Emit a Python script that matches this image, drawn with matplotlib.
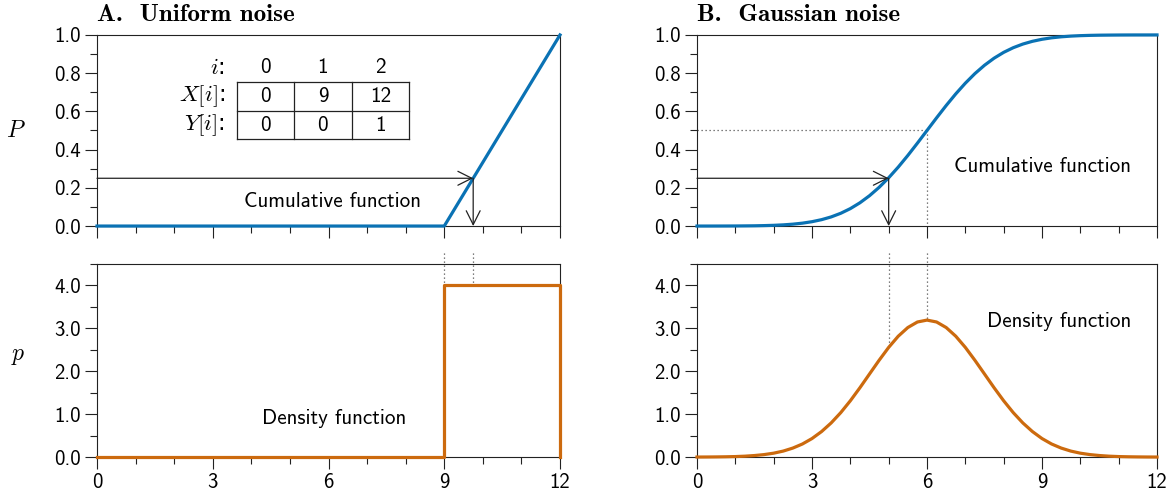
import matplotlib
matplotlib.use("Agg")
import matplotlib.pyplot as plt
from matplotlib.ticker import MultipleLocator, FormatStrFormatter

plt.rcParams["mathtext.fontset"] = "cm"
plt.rcParams["axes.unicode_minus"] = False

BLUE = "#0a72b4"
ORANGE = "#cc6a0e"
INK = "#222222"
SANS = "cmss10"

# Uniform noise: piecewise-linear cumulative, box density
uni_x = [0, 9, 12]
uni_cdf = [0, 0, 1]
uni_pdf_x = [0, 9, 9, 12, 12]
uni_pdf = [0, 0, 4, 4, 0]

# table shown in panel A
tab_cols = ["0", "1", "2"]
tab_X = ["0", "9", "12"]
tab_Y = ["0", "0", "1"]

# Gaussian noise, values
gx = [0, 0.25, 0.5, 0.75, 1, 1.25, 1.5, 1.75, 2, 2.25, 2.5, 2.75, 3, 3.25, 3.5, 3.75,
      4, 4.25, 4.5, 4.75, 5, 5.25, 5.5, 5.75, 6, 6.25, 6.5, 6.75, 7, 7.25, 7.5, 7.75,
      8, 8.25, 8.5, 8.75, 9, 9.25, 9.5, 9.75, 10, 10.25, 10.5, 10.75, 11, 11.25, 11.5,
      11.75, 12]
g_cdf = [0.0, 0.0, 0.0001, 0.0002, 0.0004, 0.0008, 0.0013, 0.0023, 0.0038, 0.0062,
         0.0098, 0.0151, 0.0228, 0.0334, 0.0478, 0.0668, 0.0912, 0.1217, 0.1587, 0.2023,
         0.2525, 0.3085, 0.3694, 0.4338, 0.5, 0.5662, 0.6306, 0.6915, 0.7475, 0.7977,
         0.8413, 0.8783, 0.9088, 0.9332, 0.9522, 0.9666, 0.9772, 0.9849, 0.9902, 0.9938,
         0.9962, 0.9977, 0.9987, 0.9992, 0.9996, 0.9998, 0.9999, 0.9999, 1.0]
g_pdf = [0.001, 0.002, 0.004, 0.007, 0.012, 0.021, 0.036, 0.058, 0.091, 0.140, 0.210,
         0.305, 0.432, 0.595, 0.796, 1.036, 1.312, 1.616, 1.936, 2.255, 2.556, 2.817,
         3.019, 3.148, 3.192, 3.148, 3.019, 2.817, 2.556, 2.255, 1.936, 1.616, 1.312,
         1.036, 0.796, 0.595, 0.432, 0.305, 0.210, 0.140, 0.091, 0.058, 0.036, 0.021,
         0.012, 0.007, 0.004, 0.002, 0.001]

# marked points (x where P = 0.25, median)
uni_q = 9.75
gau_q = 5.0
gau_med = 6.0

fig = plt.figure(figsize=(11.74, 4.99), dpi=100)
lefts = [97 / 1174, 697 / 1174]
widths = [463 / 1174, 460 / 1174]
axes = {}
for c in range(2):
    axes[(0, c)] = fig.add_axes([lefts[c], 0.547, widths[c], 0.383])
    axes[(1, c)] = fig.add_axes([lefts[c], 0.084, widths[c], 0.387])

for (r, c), ax in axes.items():
    ax.set_xlim(0, 12)
    ax.xaxis.set_major_locator(MultipleLocator(3))
    ax.xaxis.set_minor_locator(MultipleLocator(1))
    if r == 0:
        ax.set_ylim(0, 1)
        ax.yaxis.set_major_locator(MultipleLocator(0.2))
        ax.yaxis.set_minor_locator(MultipleLocator(0.1))
        ax.tick_params(axis="x", labelbottom=False)
    else:
        ax.set_ylim(0, 4.5)
        ax.yaxis.set_major_locator(MultipleLocator(1))
        ax.yaxis.set_minor_locator(MultipleLocator(0.5))
        ax.xaxis.set_major_formatter(FormatStrFormatter("%d"))
    ax.yaxis.set_major_formatter(FormatStrFormatter("%.1f"))
    ax.tick_params(which="major", direction="out", length=8.5, width=0.8,
                   color=INK, labelsize=15, pad=3, labelfontfamily=SANS)
    ax.tick_params(which="minor", direction="out", length=5, width=0.8, color=INK)
    for s in ax.spines.values():
        s.set_linewidth(0.8)
        s.set_color(INK)

arrow = dict(arrowstyle="->", color=INK, lw=0.9, mutation_scale=25,
             shrinkA=0, shrinkB=0)
dot = dict(color="#555555", lw=0.9, ls=(0, (1, 2.2)))
txt = dict(fontsize=15.2, family=SANS, ha="center", va="center")

# ---- A: uniform
ax = axes[(0, 0)]
ax.plot(uni_x, uni_cdf, color=BLUE, lw=2.3, zorder=3, clip_on=False)
ax.annotate("", xy=(uni_q, 0.25), xytext=(0, 0.25), arrowprops=arrow)
ax.annotate("", xy=(uni_q, 0), xytext=(uni_q, 0.25), arrowprops=arrow)
ax.text(6.1, 0.13, "Cumulative function", **txt)
ax.set_title("A.  Uniform noise", loc="left", fontsize=18, family="cmb10", pad=10)

# table
tx = [3.63, 5.10, 6.61, 8.08]
ty = [0.754, 0.602, 0.455]
for x in tx:
    ax.plot([x, x], [ty[0], ty[2]], color=INK, lw=0.9)
for y in ty:
    ax.plot([tx[0], tx[-1]], [y, y], color=INK, lw=0.9)
for j in range(3):
    xc = (tx[j] + tx[j + 1]) / 2
    ax.text(xc, 0.83, tab_cols[j], **txt)
    ax.text(xc, 0.678, tab_X[j], **txt)
    ax.text(xc, 0.528, tab_Y[j], **txt)
ax.text(3.32, 0.83, r"$i$:", fontsize=16.5, ha="right", va="center")
ax.text(3.32, 0.678, r"$X[i]$:", fontsize=16.5, ha="right", va="center")
ax.text(3.32, 0.528, r"$Y[i]$:", fontsize=16.5, ha="right", va="center")

ax = axes[(1, 0)]
ax.plot(uni_pdf_x, uni_pdf, color=ORANGE, lw=2.3, zorder=3, clip_on=False)
for x in [9, uni_q]:
    ax.plot([x, x], [4.75, 4.0], clip_on=False, **dot)
ax.text(6.15, 0.89, "Density function", **txt)

fig.text(16 / 1174, 1 - 130 / 499, r"$P$", fontsize=17, ha="center", va="center")
fig.text(18 / 1174, 1 - 355 / 499, r"$p$", fontsize=17, ha="center", va="center")

# ---- B: gaussian
ax = axes[(0, 1)]
ax.plot(gx, g_cdf, color=BLUE, lw=2.3, zorder=3, clip_on=False)
ax.plot([0, gau_med], [0.5, 0.5], **dot)
ax.plot([gau_med, gau_med], [0.5, 0], **dot)
ax.annotate("", xy=(gau_q, 0.25), xytext=(0, 0.25), arrowprops=arrow)
ax.annotate("", xy=(gau_q, 0), xytext=(gau_q, 0.25), arrowprops=arrow)
ax.text(9.0, 0.314, "Cumulative function", **txt)
ax.set_title("B.  Gaussian noise", loc="left", fontsize=18, family="cmb10", pad=10)

ax = axes[(1, 1)]
ax.plot(gx, g_pdf, color=ORANGE, lw=2.3, zorder=3, clip_on=False)
ax.plot([gau_q, gau_q], [4.75, 2.556], clip_on=False, **dot)
ax.plot([gau_med, gau_med], [4.75, 3.192], clip_on=False, **dot)
ax.text(9.45, 3.17, "Density function", **txt)

fig.savefig("out.png", dpi=100)
